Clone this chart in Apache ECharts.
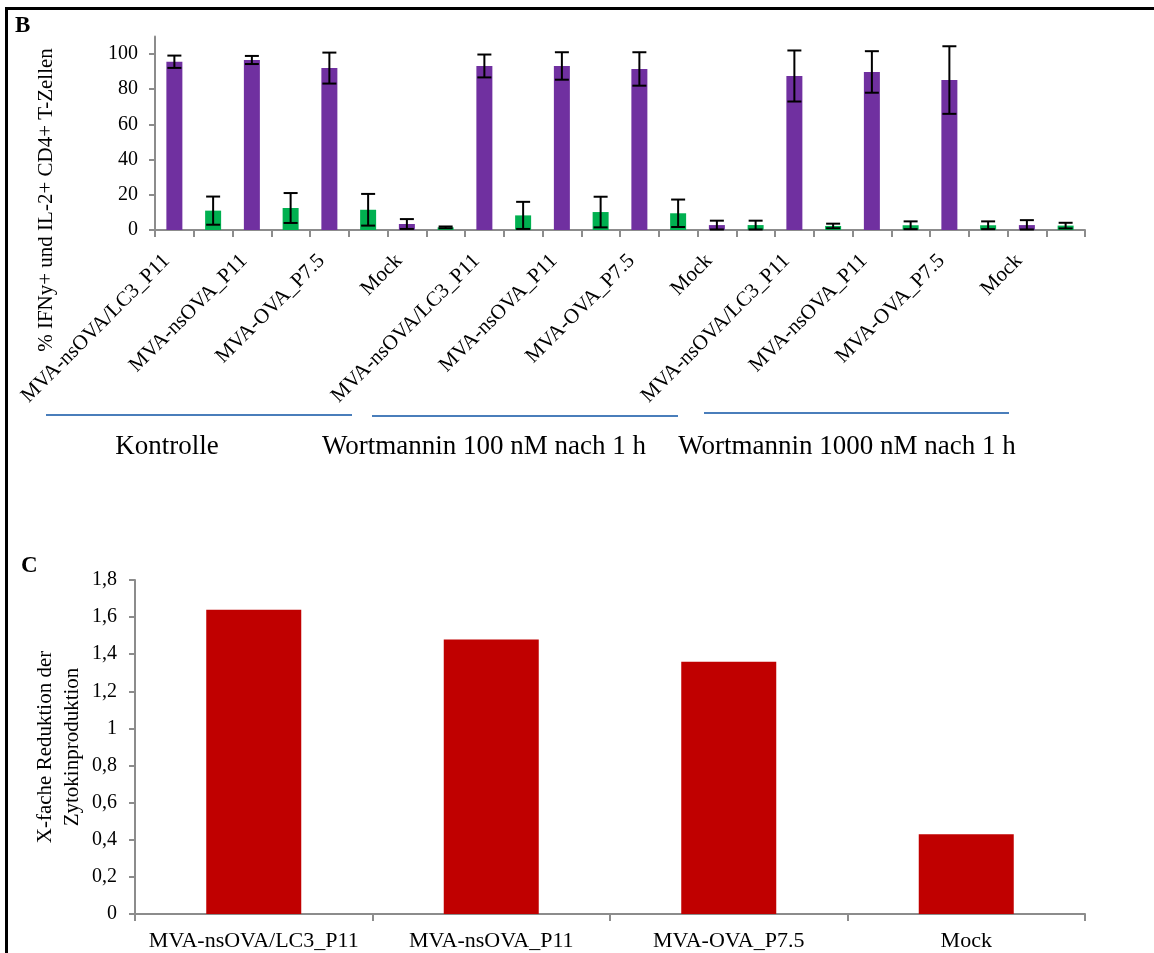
<!DOCTYPE html>
<html>
<head>
<meta charset="utf-8">
<script src="https://cdn.jsdelivr.net/npm/echarts@6/dist/echarts.min.js"></script>
<style>
html,body{margin:0;padding:0;background:#fff;}
#chart{width:1154px;height:953px;}
</style>
</head>
<body>
<div id="chart"></div>
<script>
// ---- Panel B data ----
const labelsB = ['MVA-nsOVA/LC3_P11','MVA-nsOVA_P11','MVA-OVA_P7.5','Mock',
                 'MVA-nsOVA/LC3_P11','MVA-nsOVA_P11','MVA-OVA_P7.5','Mock',
                 'MVA-nsOVA/LC3_P11','MVA-nsOVA_P11','MVA-OVA_P7.5','Mock'];
const purpleValues = [95.6, 96.6, 92.0, 3.4, 93.2, 93.2, 91.5, 2.8, 87.5, 89.8, 85.2, 2.8];
const purpleErr    = [3.5, 2.3, 8.8, 2.8, 6.5, 7.8, 9.5, 2.5, 14.5, 11.8, 19.2, 2.8];
const greenValues  = [11.0, 12.5, 11.5, 1.5, 8.3, 10.2, 9.5, 2.8, 2.3, 2.7, 2.7, 2.5];
const greenErr     = [8.0, 8.5, 9.0, 0.5, 7.7, 8.7, 7.8, 2.5, 1.3, 2.2, 2.2, 1.6];
const yTicksB = [0, 20, 40, 60, 80, 100];
const groupNames = ['Kontrolle', 'Wortmannin 100 nM nach 1 h', 'Wortmannin 1000 nM nach 1 h'];
const titleB = '% IFNy+ und IL-2+ CD4+ T-Zellen';

// ---- Panel C data ----
const labelsC = ['MVA-nsOVA/LC3_P11','MVA-nsOVA_P11','MVA-OVA_P7.5','Mock'];
const valuesC = [1.64, 1.48, 1.36, 0.43];
const titleC = ['X-fache Reduktion der', 'Zytokinproduktion'];

// ---- build slots (each condition: purple slot then green slot) ----
const slots = [];
const purpleSlots = [], greenSlots = [], errData = [];
labelsB.forEach((l, i) => {
  slots.push(String(2*i)); slots.push(String(2*i+1));
  purpleSlots.push(purpleValues[i]); purpleSlots.push('-');
  greenSlots.push('-'); greenSlots.push(greenValues[i]);
  errData.push([2*i, purpleValues[i], purpleErr[i]]);
  errData.push([2*i+1, greenValues[i], greenErr[i]]);
});

const FONT = '"Liberation Serif", "Times New Roman", serif';
const AXIS_COLOR = '#8c8c8c';

const chart = echarts.init(document.getElementById('chart'), null, {renderer: 'canvas'});

function errRender(params, api) {
  const x = api.value(0), v = api.value(1), e = api.value(2);
  const hi = api.coord([x, v + e]);
  const lo = api.coord([x, Math.max(v - e, 0.3)]);
  const cw = 7;
  const st = {stroke: '#000', lineWidth: 2};
  return {type: 'group', children: [
    {type: 'line', shape: {x1: hi[0], y1: hi[1], x2: lo[0], y2: lo[1]}, style: st},
    {type: 'line', shape: {x1: hi[0]-cw, y1: hi[1], x2: hi[0]+cw, y2: hi[1]}, style: st},
    {type: 'line', shape: {x1: lo[0]-cw, y1: lo[1], x2: lo[0]+cw, y2: lo[1]}, style: st}
  ]};
}

const option = {
  animation: false,
  backgroundColor: '#fff',
  textStyle: {fontFamily: FONT},
  grid: [
    {left: 155, right: 69, top: 36.4, bottom: 723},
    {left: 135, right: 69, top: 580, bottom: 39}
  ],
  xAxis: [
    {
      gridIndex: 0, type: 'category', data: slots,
      axisLine: {lineStyle: {color: AXIS_COLOR, width: 2}},
      axisTick: {show: true, inside: false, length: 7, alignWithLabel: false, interval: 0, lineStyle: {color: AXIS_COLOR, width: 2}},
      axisLabel: {
        interval: 0, rotate: 45, margin: 20, fontSize: 21, color: '#000', fontFamily: FONT,
        padding: [0, 11, 0, 0],
        formatter: (v, idx) => (idx % 2 === 0 ? labelsB[idx / 2] : '')
      },
      splitLine: {show: false}
    },
    {
      gridIndex: 1, type: 'category', data: labelsC,
      axisLine: {lineStyle: {color: AXIS_COLOR, width: 2}},
      axisTick: {show: true, length: 7, lineStyle: {color: AXIS_COLOR, width: 2}},
      axisLabel: {interval: 0, margin: 16, fontSize: 22, color: '#000', fontFamily: FONT},
      splitLine: {show: false}
    }
  ],
  yAxis: [
    {
      gridIndex: 0, type: 'value', min: 0, max: 110, interval: 10,
      axisLine: {show: true, lineStyle: {color: AXIS_COLOR, width: 2}},
      axisTick: {show: true, length: 6, customValues: yTicksB, lineStyle: {color: AXIS_COLOR, width: 2}},
      axisLabel: {customValues: yTicksB, margin: 17, fontSize: 20, color: '#000', fontFamily: FONT},
      splitLine: {show: false}
    },
    {
      gridIndex: 1, type: 'value', min: 0, max: 1.8, interval: 0.2,
      axisLine: {show: true, lineStyle: {color: AXIS_COLOR, width: 2}},
      axisTick: {show: true, length: 6, lineStyle: {color: AXIS_COLOR, width: 2}},
      axisLabel: {margin: 18, fontSize: 20, color: '#000', fontFamily: FONT,
        formatter: v => String(+(+v).toFixed(1)).replace('.', ',')},
      splitLine: {show: false}
    }
  ],
  series: [
    {type: 'bar', xAxisIndex: 0, yAxisIndex: 0, data: purpleSlots, barWidth: 16, barGap: '-100%',
     itemStyle: {color: '#7030A0'}},
    {type: 'bar', xAxisIndex: 0, yAxisIndex: 0, data: greenSlots, barWidth: 16, barGap: '-100%',
     itemStyle: {color: '#00B050'}},
    {type: 'custom', xAxisIndex: 0, yAxisIndex: 0, data: errData, renderItem: errRender,
     encode: {x: 0, y: 1}, clip: false, z: 5},
    {type: 'bar', xAxisIndex: 1, yAxisIndex: 1, data: valuesC, barWidth: 95,
     itemStyle: {color: '#C00000'}}
  ],
  graphic: [
    // frame
    {type: 'line', shape: {x1: 5, y1: 8.5, x2: 1154, y2: 8.5}, style: {stroke: '#000', lineWidth: 3}},
    {type: 'line', shape: {x1: 6.5, y1: 7, x2: 6.5, y2: 953}, style: {stroke: '#000', lineWidth: 3}},
    // panel letters
    {type: 'text', x: 15, y: 15, style: {text: 'B', fontSize: 23, fontWeight: 'bold', fontFamily: FONT, fill: '#000'}},
    {type: 'text', x: 21, y: 555, style: {text: 'C', fontSize: 23, fontWeight: 'bold', fontFamily: FONT, fill: '#000'}},
    // y titles
    {type: 'text', x: 46, y: 200, rotation: Math.PI / 2,
     style: {text: titleB, fontSize: 21, fontFamily: FONT, fill: '#000', align: 'center', verticalAlign: 'middle'}},
    {type: 'text', x: 45, y: 747, rotation: Math.PI / 2,
     style: {text: titleC[0], fontSize: 21, fontFamily: FONT, fill: '#000', align: 'center', verticalAlign: 'middle'}},
    {type: 'text', x: 72, y: 747, rotation: Math.PI / 2,
     style: {text: titleC[1], fontSize: 21, fontFamily: FONT, fill: '#000', align: 'center', verticalAlign: 'middle'}},
    // group lines
    {type: 'line', shape: {x1: 46, y1: 415, x2: 352, y2: 415}, style: {stroke: '#4A7EBB', lineWidth: 2}},
    {type: 'line', shape: {x1: 372, y1: 416, x2: 678, y2: 416}, style: {stroke: '#4A7EBB', lineWidth: 2}},
    {type: 'line', shape: {x1: 704, y1: 413, x2: 1009, y2: 413}, style: {stroke: '#4A7EBB', lineWidth: 2}},
    // group names
    {type: 'text', x: 167, y: 447, style: {text: groupNames[0], fontSize: 27, fontFamily: FONT, fill: '#000', align: 'center', verticalAlign: 'middle'}},
    {type: 'text', x: 484, y: 447, style: {text: groupNames[1], fontSize: 27, fontFamily: FONT, fill: '#000', align: 'center', verticalAlign: 'middle'}},
    {type: 'text', x: 847, y: 447, style: {text: groupNames[2], fontSize: 27, fontFamily: FONT, fill: '#000', align: 'center', verticalAlign: 'middle'}}
  ]
};
chart.setOption(option);
</script>
</body>
</html>
